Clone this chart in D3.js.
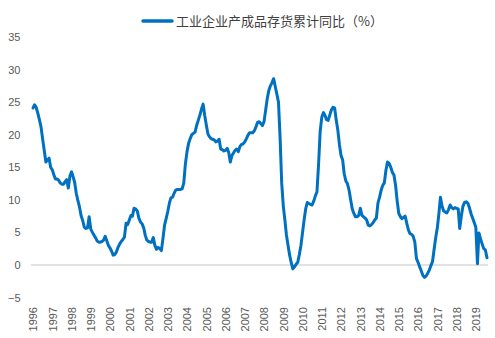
<!DOCTYPE html>
<html>
<head>
<meta charset="utf-8">
<script src="https://cdn.jsdelivr.net/npm/d3@7/dist/d3.min.js"></script>
<style>
  html, body { margin: 0; padding: 0; background: #fff; }
  svg { display: block; }
  .tick-label { font-family: "Liberation Sans", Arial, sans-serif; font-size: 11px; fill: #595959; }
  .legend-text { font-family: "Noto Sans CJK SC", sans-serif; font-size: 13px; fill: #404040; }
</style>
</head>
<body>
<svg id="chart" width="495" height="338"></svg>
<script>
// 工业企业产成品存货累计同比 (%), monthly from Jan 1996
const seriesName = "工业企业产成品存货累计同比（%）";
const startYear = 1996;
const values1996_2000 = [
  24.1, 24.6, 24.2, 23.3, 22.3, 21.2, 19.4, 17.6, 15.8, 16.1, 16.4, 15.0,
  14.6, 13.8, 13.2, 13.2, 13.0, 12.6, 12.4, 12.4, 12.8, 13.1, 11.8, 13.6,
  14.3, 13.5, 12.7, 11.0, 9.9, 8.9, 7.6, 6.8, 5.8, 5.6, 5.7, 7.4,
  5.5, 5.0, 4.6, 4.2, 3.7, 3.5, 3.5, 3.6, 3.8, 4.4, 3.7, 3.0,
  2.6, 2.1, 1.5, 1.6, 2.0, 2.7, 3.2, 3.6, 3.9, 4.3, 6.4, 6.2
];
const values2001_2005 = [
  6.9, 7.6, 7.5, 8.7, 8.6, 8.3, 7.2, 6.6, 6.3, 5.7, 4.5, 3.8,
  3.6, 3.5, 3.5, 4.2, 3.0, 2.4, 2.7, 2.5, 2.2, 4.0, 6.1, 7.1,
  8.2, 9.5, 10.3, 10.4, 11.0, 11.5, 11.6, 11.6, 11.6, 11.7, 12.6, 15.5,
  17.4, 18.7, 19.4, 20.0, 20.2, 20.4, 21.4, 22.2, 23.0, 23.9, 24.7, 23.0,
  21.5, 20.1, 19.7, 19.4, 19.3, 19.2, 18.9, 19.0, 19.3, 17.8, 17.7, 17.5
];
const values2006_2010 = [
  17.6, 17.9, 17.3, 15.8, 16.8, 17.2, 17.6, 17.8, 17.4, 18.2, 18.5, 18.6,
  18.9, 19.4, 19.9, 20.3, 20.3, 20.3, 20.6, 21.2, 21.9, 22.0, 21.7, 21.4,
  22.0, 23.8, 25.5, 26.8, 27.5, 28.0, 28.6, 27.4, 26.2, 25.0, 19.5, 12.6,
  9.0, 6.8, 4.6, 3.0, 1.5, 0.3, -0.6, -0.3, 0.1, 0.4, 1.6, 3.0,
  5.0, 7.0, 8.6, 9.6, 9.4, 9.3, 9.2, 9.8, 10.6, 11.2, 15.5, 20.5
];
const values2011_2015 = [
  22.7, 23.4, 23.0, 22.3, 22.2, 23.0, 23.8, 24.2, 24.1, 22.3, 20.7, 18.5,
  16.8, 16.1, 14.0, 12.9, 12.5, 11.5, 10.0, 8.6, 7.9, 7.4, 7.4, 7.6,
  8.7, 7.6, 7.4, 7.2, 6.9, 6.1, 6.0, 6.2, 6.5, 6.9, 7.2, 9.5,
  10.4, 11.5, 12.2, 12.6, 14.5, 15.8, 15.6, 15.0, 14.2, 13.8, 12.2, 9.8,
  7.9, 7.4, 7.1, 7.3, 7.5, 6.4, 5.4, 4.8, 4.7, 4.4, 3.5, 1.0
];
const values2016_2019 = [
  0.4, -0.3, -0.9, -1.6, -1.9, -1.7, -1.3, -0.8, -0.1, 0.5, 2.4, 4.2,
  5.7, 8.0, 10.4, 9.0, 8.3, 8.1, 8.0, 8.5, 9.2, 8.8, 8.6, 8.8,
  8.7, 8.6, 5.6, 7.5, 9.0, 9.6, 9.7, 9.5, 8.8, 7.9, 7.2, 6.5,
  5.8, 0.2, 4.9, 4.0, 3.2, 2.5, 2.3, 1.1
];
const yTicks = [-5, 0, 5, 10, 15, 20, 25, 30, 35];
const yearLabels = d3.range(1996, 2020).map(String);

const values = [].concat(values1996_2000, values2001_2005, values2006_2010, values2011_2015, values2016_2019);
const data = values.map((v, i) => ({ date: new Date(startYear, i, 1), value: v }));

const svg = d3.select("#chart");
const lineColor = "#0070C0";

const x = d3.scaleTime()
  .domain([data[0].date, data[data.length - 1].date])
  .range([33, 487]);
const y = d3.scaleLinear().domain([-5, 35]).range([297.5, 37]);

// zero baseline
svg.append("line")
  .attr("x1", 31).attr("x2", 488)
  .attr("y1", y(0)).attr("y2", y(0))
  .attr("stroke", "#d9d9d9").attr("stroke-width", 1.5);

// y-axis labels
const yAxis = d3.axisLeft(y).tickValues(yTicks).tickSize(0).tickPadding(0);
const gy = svg.append("g").attr("transform", "translate(20.5,0)").call(yAxis);
gy.select(".domain").remove();
gy.selectAll("text").attr("class", "tick-label").attr("fill", null);

// x-axis year labels (rotated)
const yearDates = yearLabels.map(s => new Date(+s, 0, 1));
const xAxis = d3.axisBottom(x).tickValues(yearDates).tickFormat(d3.timeFormat("%Y")).tickSize(0).tickPadding(0);
const gx = svg.append("g").attr("transform", "translate(0,307)").call(xAxis);
gx.select(".domain").remove();
gx.selectAll("text")
  .attr("class", "tick-label").attr("fill", null)
  .attr("text-anchor", "end")
  .attr("transform", "rotate(-90)")
  .attr("x", 0).attr("y", 0).attr("dy", "0.35em");

// series line
const line = d3.line().x(d => x(d.date)).y(d => y(d.value));
svg.append("path")
  .datum(data)
  .attr("d", line)
  .attr("fill", "none")
  .attr("stroke", lineColor)
  .attr("stroke-width", 3)
  .attr("stroke-linejoin", "round")
  .attr("stroke-linecap", "round");

// legend
const legend = svg.append("g").attr("transform", "translate(143,21)");
legend.append("line")
  .attr("x1", 0).attr("x2", 29).attr("y1", 0).attr("y2", 0)
  .attr("stroke", lineColor).attr("stroke-width", 3.5).attr("stroke-linecap", "round");
legend.append("text")
  .attr("class", "legend-text")
  .attr("x", 33).attr("y", 0).attr("dy", "0.35em")
  .text(seriesName);
</script>
</body>
</html>
